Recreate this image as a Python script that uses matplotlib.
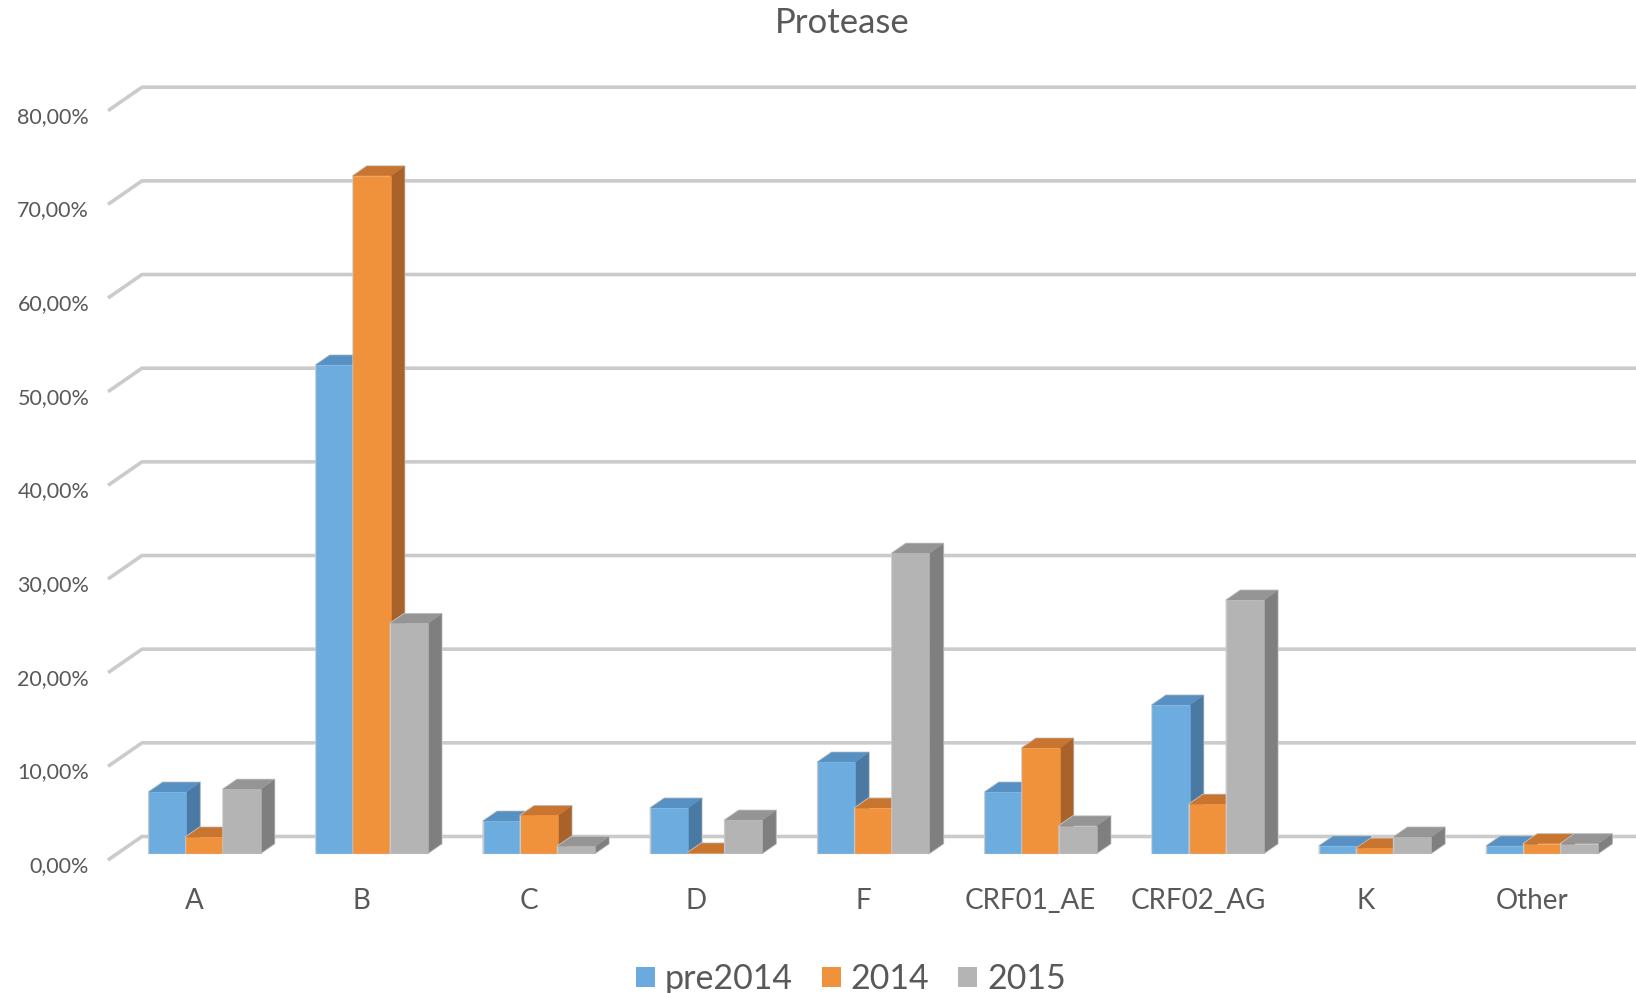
import matplotlib
matplotlib.use("Agg")
import matplotlib.pyplot as plt
from matplotlib.patches import Polygon, Patch
from matplotlib.transforms import ScaledTranslation

# ---- data -------------------------------------------------------------
categories = ["A", "B", "C", "D", "F", "CRF01_AE", "CRF02_AG", "K", "Other"]
series_names = ["pre2014", "2014", "2015"]
pre2014 = [6.5, 52.1, 3.4, 4.8, 9.7, 6.5, 15.8, 0.75, 0.75]
y2014 = [1.7, 72.3, 4.0, 0.0, 4.8, 11.2, 5.2, 0.5, 1.0]
y2015 = [6.8, 24.5, 0.7, 3.5, 32.0, 2.9, 27.0, 1.7, 1.0]
y_ticks = [0, 10, 20, 30, 40, 50, 60, 70, 80]

# face colours per series: (front, top, side)
face_colors = [
    ("#6dacde", "#5790c2", "#4a7aa3"),
    ("#f0913c", "#c9752f", "#a9632a"),
    ("#b4b4b4", "#959595", "#7f7f7f"),
]
legend_colors = ["#6aaade", "#f0913c", "#b4b4b4"]
text_color = "#595959"
grid_color = "#cbcbcb"

plt.rcParams["font.family"] = ["Lato", "DejaVu Sans"]

W, H = 1636, 993
fig = plt.figure(figsize=(W / 100, H / 100), dpi=100)
ax = fig.add_axes([108 / W, 133 / H, 1505 / W, 749.3 / H])
x_shift = 0.018
ax.set_xlim(-0.5 - x_shift, len(categories) - 0.5 - x_shift)
ax.set_ylim(0, 80)
for s in ax.spines.values():
    s.set_visible(False)

# oblique depth of the floor (category units, percent units)
depth_x = 0.2033
depth_y = 2.51
gap_depth = 1.5
bar_front = (gap_depth / 2) / (1 + gap_depth)      # depth fraction where bars start
bar_depth = 1 / (1 + gap_depth)                   # depth fraction of a bar
gap_width = 1.5
bar_w = 1 / (len(series_names) + gap_width)

# back wall gridlines with their diagonal on the side wall
x_left = ax.get_xlim()[0]
x_right = ax.get_xlim()[1] + depth_x + 0.5
for v in y_ticks:
    ax.plot([x_left, x_left + depth_x, x_right], [v, v + depth_y, v + depth_y],
            color=grid_color, lw=2.6, solid_capstyle="butt", clip_on=False, zorder=1)

# 3-D columns, drawn left to right so later faces cover earlier sides
all_series = [pre2014, y2014, y2015]
ox, oy = bar_front * depth_x, bar_front * depth_y
bx, by = bar_depth * depth_x, bar_depth * depth_y
z = 3
for i, cat in enumerate(categories):
    for j, vals in enumerate(all_series):
        v = vals[i]
        x0 = i - 1.5 * bar_w + j * bar_w + ox
        x1 = x0 + bar_w
        y0 = oy
        y1 = v + oy
        front_c, top_c, side_c = face_colors[j]
        outline = Polygon([(x0, y0), (x1, y0), (x1 + bx, y0 + by), (x1 + bx, y1 + by),
                           (x0 + bx, y1 + by), (x0, y1)], closed=True,
                          facecolor="none", edgecolor="#c8c8c8", lw=1.6,
                          zorder=z, clip_on=False)
        side = Polygon([(x1, y0), (x1 + bx, y0 + by), (x1 + bx, y1 + by), (x1, y1)],
                       closed=True, facecolor=side_c, edgecolor=side_c, lw=0.4,
                       zorder=z + 0.1, clip_on=False)
        top = Polygon([(x0, y1), (x1, y1), (x1 + bx, y1 + by), (x0 + bx, y1 + by)],
                      closed=True, facecolor=top_c, edgecolor=top_c, lw=0.4,
                      zorder=z + 0.2, clip_on=False)
        front = Polygon([(x0, y0), (x1, y0), (x1, y1), (x0, y1)], closed=True,
                        facecolor=front_c, edgecolor=front_c, lw=0.4,
                        zorder=z + 0.3, clip_on=False)
        for p in (outline, side, top, front):
            ax.add_patch(p)
        z += 1

# axes labels
ax.set_yticks(y_ticks)
ax.set_yticklabels([f"{v:.2f}%".replace(".", ",") for v in y_ticks])
ax.set_xticks(range(len(categories)))
ax.set_xticklabels(categories)
ax.tick_params(axis="y", length=0, pad=13.5, labelsize=15.5, labelcolor=text_color)
ax.tick_params(axis="x", length=0, pad=20.5, labelsize=20, labelcolor=text_color)
down = ScaledTranslation(0, -4 / 100, fig.dpi_scale_trans)
for lab in ax.get_yticklabels():
    lab.set_transform(lab.get_transform() + down)

fig.text(842 / W, 1 - 23 / H, "Protease", ha="center", va="center",
         fontsize=25, color=text_color)

handles = [Patch(facecolor=c, edgecolor="none") for c in legend_colors]
fig.legend(handles, series_names, loc="center", bbox_to_anchor=(851 / W, 1 - 979 / H),
           ncol=3, frameon=False, fontsize=24.5, labelcolor=text_color,
           handlelength=0.55, handleheight=0.55, handletextpad=0.3,
           columnspacing=0.85, borderpad=0, borderaxespad=0)

fig.savefig("out.png", dpi=100, facecolor="white")
